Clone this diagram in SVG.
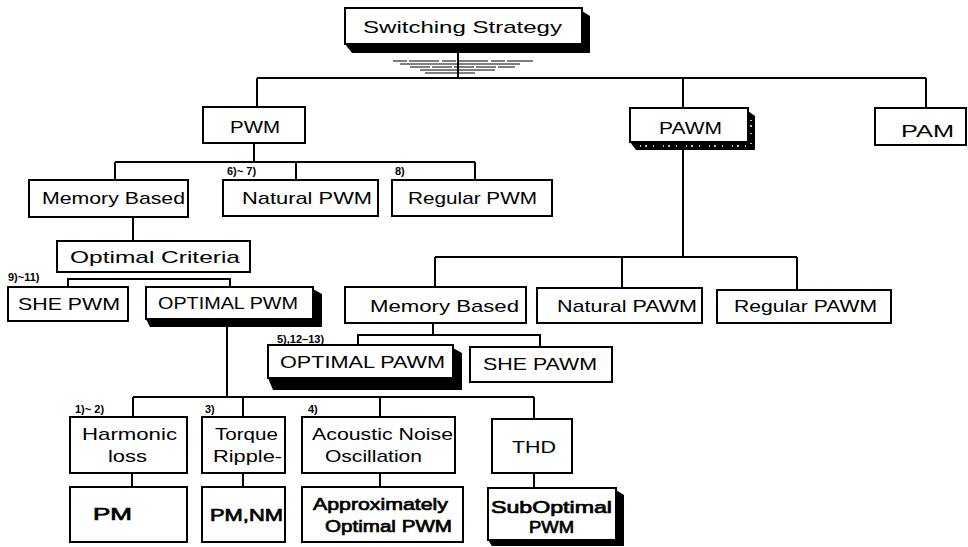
<svg xmlns="http://www.w3.org/2000/svg" width="968" height="547" viewBox="0 0 968 547">
<style>
.b{fill:#fff;stroke:#000;stroke-width:2}
.sh{fill:#000}
.c{fill:none;stroke:#000;stroke-width:2}
.t{font-family:"Liberation Sans",Arial,sans-serif;font-size:17px;fill:#000;text-anchor:start}
.s{font-family:"Liberation Sans",Arial,sans-serif;font-size:11px;font-weight:bold;fill:#000}
.k{stroke:#000;stroke-width:0.7}
</style>
<rect width="968" height="547" fill="#fff"/>
<g id="connectors">
<path class="c" d="M458,53 V78 M257,78 H926 M257,78 V107 M683,78 V108 M926,78 V108"/>
<g stroke="#000" stroke-width="1">
<line x1="393" y1="61" x2="533" y2="61" stroke-dasharray="14 2 30 3"/>
<line x1="400" y1="64" x2="520" y2="64"/>
<line x1="410" y1="67" x2="515" y2="67" stroke-dasharray="20 2"/>
<line x1="420" y1="70" x2="495" y2="70"/>
<line x1="425" y1="73" x2="475" y2="73"/>
</g>
<path class="c" d="M254,143 V162 M115,162 H475 M115,162 V180 M296,162 V180 M475,162 V180"/>
<path class="c" d="M133,217 V241"/>
<path class="c" d="M68,287 V279 H230 V287"/>
<path class="c" d="M227,327 V397 M133,397 H534 M133,397 V417 M243,397 V417 M380,397 V417 M534,397 V419"/>
<path class="c" d="M132,473 V487 M243,473 V487 M380,473 V487 M534,473 V488"/>
<path class="c" d="M683,150 V257 M435,257 H797 M435,257 V287 M622,257 V288 M797,257 V290"/>
<path class="c" d="M433,323 V335 M358,345 V335 H540 V347"/>
</g>
<g id="switching">
<path class="sh" d="M582,11 L590,16 L590,53 L352,53 L345,44 L582,44 Z"/>
<rect class="b" x="345" y="8" width="237" height="36"/>
<text class="t" x="363" y="33" font-size="18" textLength="199" lengthAdjust="spacingAndGlyphs">Switching Strategy</text>
</g>
<g id="pawm">
<path class="sh" d="M748,111 L755,116 L755,150 L636,150 L630,142 L748,142 Z"/>
<path d="M640,146 H750 M751,120 V146" stroke="#fff" stroke-width="1.5" stroke-dasharray="1 4 2 6 1 9" fill="none"/>
<rect class="b" x="630" y="108" width="118" height="34"/>
<text class="t" x="659" y="134" textLength="63" lengthAdjust="spacingAndGlyphs">PAWM</text>
</g>
<g id="pwm">
<rect class="b" x="203" y="107" width="102" height="36"/>
<text class="t" x="230" y="133" textLength="50" lengthAdjust="spacingAndGlyphs">PWM</text>
</g>
<g id="pam">
<rect class="b" x="875" y="108" width="91" height="37"/>
<text class="t" x="901" y="137" font-size="20" textLength="53" lengthAdjust="spacingAndGlyphs">PAM</text>
</g>
<g id="memory-pwm">
<rect class="b" x="29" y="180" width="159" height="37"/>
<text class="t" x="42" y="204" textLength="143" lengthAdjust="spacingAndGlyphs">Memory Based</text>
</g>
<g id="natural-pwm">
<rect class="b" x="223" y="180" width="155" height="36"/>
<text class="t" x="242" y="204" textLength="130" lengthAdjust="spacingAndGlyphs">Natural PWM</text>
<text class="s" x="227" y="175">6)~ 7)</text>
</g>
<g id="regular-pwm">
<rect class="b" x="392" y="180" width="160" height="36"/>
<text class="t" x="408" y="204" textLength="129" lengthAdjust="spacingAndGlyphs">Regular PWM</text>
<text class="s" x="395" y="175">8)</text>
</g>
<g id="optimal-criteria">
<rect class="b" x="57" y="241" width="193" height="31"/>
<text class="t" x="70" y="263" textLength="170" lengthAdjust="spacingAndGlyphs">Optimal Criteria</text>
</g>
<g id="she-pwm">
<text class="s" x="8" y="281">9)~11)</text>
<rect class="b" x="8" y="287" width="120" height="34"/>
<text class="t" x="18" y="310" textLength="102" lengthAdjust="spacingAndGlyphs">SHE PWM</text>
</g>
<g id="optimal-pwm">
<path class="sh" d="M313,289 L322,294 L322,327 L150,327 L146,319 L313,319 Z"/>
<rect class="b" x="146" y="287" width="167" height="32"/>
<text class="t" x="158" y="309" textLength="140" lengthAdjust="spacingAndGlyphs">OPTIMAL PWM</text>
</g>
<g id="memory-pawm">
<rect class="b" x="345" y="287" width="181" height="36"/>
<text class="t" x="370" y="312" textLength="149" lengthAdjust="spacingAndGlyphs">Memory  Based</text>
</g>
<g id="natural-pawm">
<rect class="b" x="537" y="288" width="165" height="35"/>
<text class="t" x="557" y="312" textLength="140" lengthAdjust="spacingAndGlyphs">Natural PAWM</text>
</g>
<g id="regular-pawm">
<rect class="b" x="717" y="290" width="174" height="33"/>
<text class="t" x="734" y="312" textLength="143" lengthAdjust="spacingAndGlyphs">Regular  PAWM</text>
</g>
<g id="optimal-pawm">
<text class="s" x="277" y="343">5),12–13)</text>
<path class="sh" d="M453,348 L462,353 L462,390 L273,390 L268,378 L453,378 Z"/>
<rect class="b" x="268" y="345" width="185" height="33"/>
<text class="t" x="280" y="368" textLength="165" lengthAdjust="spacingAndGlyphs">OPTIMAL  PAWM</text>
</g>
<g id="she-pawm">
<rect class="b" x="470" y="347" width="142" height="35"/>
<text class="t" x="483" y="370" textLength="114" lengthAdjust="spacingAndGlyphs">SHE PAWM</text>
</g>
<g id="harmonic">
<text class="s" x="75" y="413">1)~ 2)</text>
<rect class="b" x="70" y="417" width="117" height="56"/>
<text class="t" x="82" y="440" textLength="95" lengthAdjust="spacingAndGlyphs">Harmonic</text>
<text class="t" x="108" y="462" textLength="39" lengthAdjust="spacingAndGlyphs">loss</text>
</g>
<g id="torque">
<text class="s" x="205" y="413">3)</text>
<rect class="b" x="202" y="417" width="83" height="56"/>
<text class="t" x="215" y="440" textLength="63" lengthAdjust="spacingAndGlyphs">Torque</text>
<text class="t" x="213" y="462" textLength="69" lengthAdjust="spacingAndGlyphs">Ripple-</text>
</g>
<g id="acoustic">
<text class="s" x="308" y="413">4)</text>
<rect class="b" x="302" y="417" width="153" height="56"/>
<text class="t" x="312" y="440" textLength="141" lengthAdjust="spacingAndGlyphs">Acoustic Noise</text>
<text class="t" x="325" y="462" textLength="97" lengthAdjust="spacingAndGlyphs">Oscillation</text>
</g>
<g id="thd">
<rect class="b" x="492" y="419" width="80" height="54"/>
<text class="t" x="512" y="453" textLength="44" lengthAdjust="spacingAndGlyphs">THD</text>
</g>
<g id="pm">
<rect class="b" x="70" y="487" width="117" height="55"/>
<text class="t k" x="93" y="520" font-size="21" textLength="39" lengthAdjust="spacingAndGlyphs">PM</text>
</g>
<g id="pmnm">
<rect class="b" x="202" y="487" width="83" height="55"/>
<text class="t k" x="210" y="521" font-size="19" textLength="73" lengthAdjust="spacingAndGlyphs">PM,NM</text>
</g>
<g id="approx">
<rect class="b" x="302" y="487" width="161" height="55"/>
<text class="t k" x="313" y="510" textLength="135" lengthAdjust="spacingAndGlyphs">Approximately</text>
<text class="t k" x="325" y="532" textLength="127" lengthAdjust="spacingAndGlyphs">Optimal PWM</text>
</g>
<g id="suboptimal">
<path class="sh" d="M616,490 L624,495 L624,546 L492,546 L488,540 L616,540 Z"/>
<rect class="b" x="488" y="488" width="128" height="52"/>
<text class="t k" x="491" y="513" textLength="121" lengthAdjust="spacingAndGlyphs">SubOptimal</text>
<text class="t k" x="529" y="533" textLength="45" lengthAdjust="spacingAndGlyphs">PWM</text>
</g>
</svg>
